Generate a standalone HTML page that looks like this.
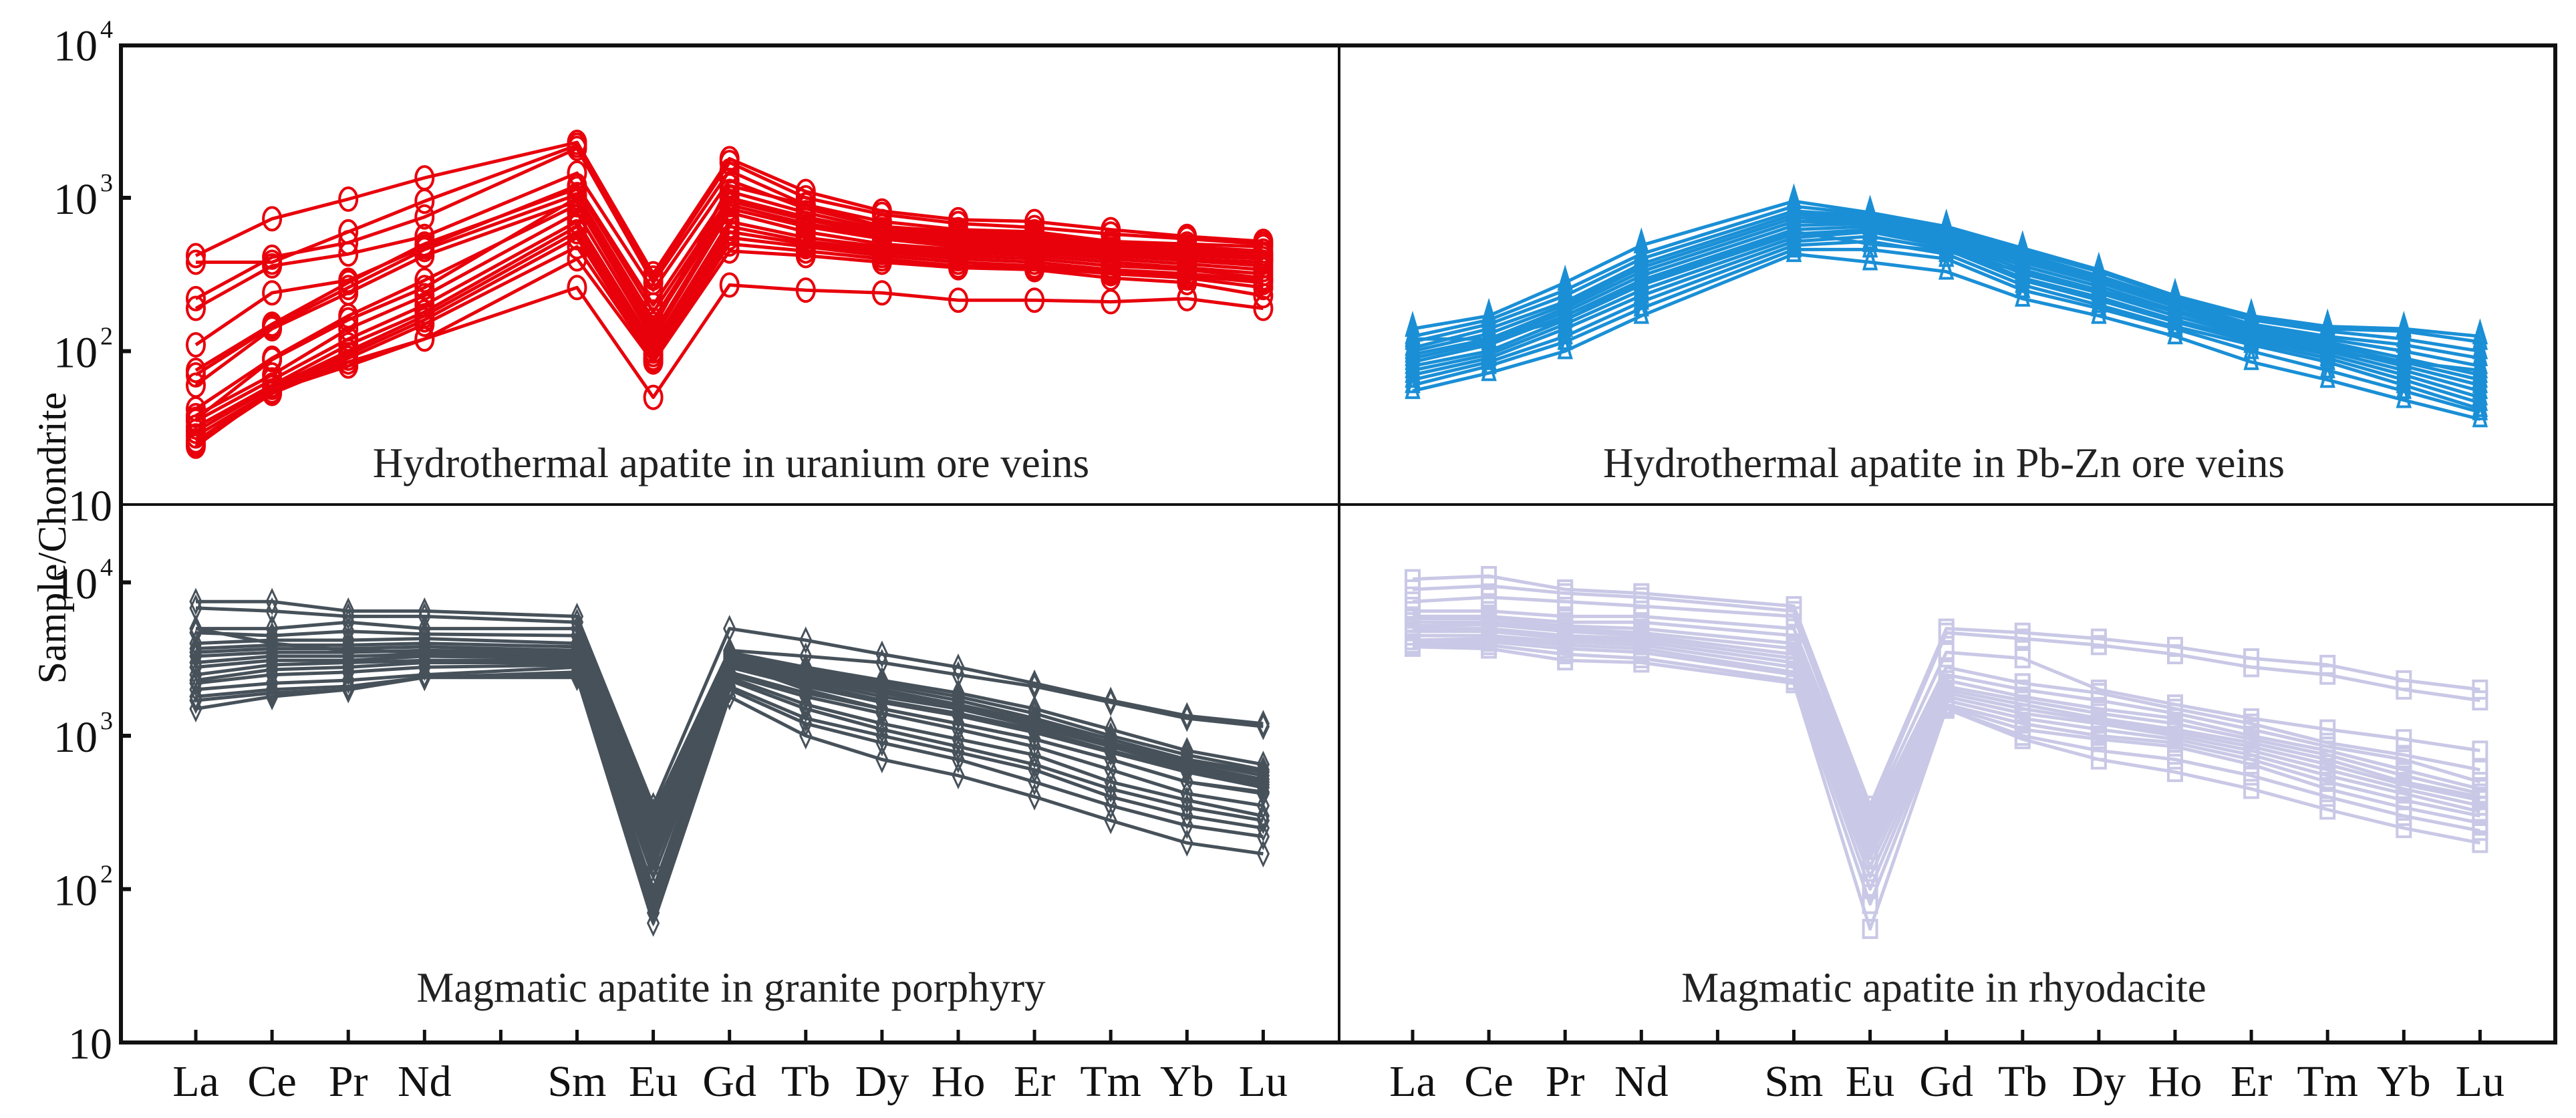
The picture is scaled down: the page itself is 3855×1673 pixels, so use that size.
<!DOCTYPE html>
<html><head><meta charset="utf-8"><style>
html,body{margin:0;padding:0;background:#fff}
svg{display:block;font-family:"Liberation Serif",serif}
</style></head><body>
<svg id="chart" width="3855" height="1673" viewBox="0 0 3855 1673" xmlns="http://www.w3.org/2000/svg">
<rect width="3855" height="1673" fill="#fff"/>
<g id="marks"></g>
<g id="frame"></g>
</svg>
<script>
const elements = ["La","Ce","Pr","Nd","Sm","Eu","Gd","Tb","Dy","Ho","Er","Tm","Yb","Lu"];
const elementIndex = [0,1,2,3,5,6,7,8,9,10,11,12,13,14];
const yTickExp = [4,3,2,1];
const captions = ["Hydrothermal apatite in uranium ore veins","Hydrothermal apatite in Pb-Zn ore veins","Magmatic apatite in granite porphyry","Magmatic apatite in rhyodacite"];

const uraniumSeries = [
[420,730,980,1350,2300,320,1800,1100,820,720,700,620,560,520],
[380,380,600,950,2200,300,1700,1000,780,680,640,580,540,500],
[220,410,510,750,2100,280,1500,900,700,620,600,520,500,480],
[190,360,430,560,1450,250,1300,850,650,580,560,500,480,450],
[110,240,290,480,1200,200,1100,800,620,560,540,480,460,430],
[75,150,280,500,1150,180,1000,750,600,540,520,460,440,420],
[70,145,260,460,1050,160,950,720,580,520,500,450,420,400],
[60,140,240,420,950,150,900,680,560,500,480,430,400,380],
[42,90,170,290,900,130,850,650,540,480,460,420,390,360],
[38,70,140,230,800,120,800,600,500,460,440,400,370,340],
[35,65,120,200,700,110,700,550,480,440,420,380,350,320],
[32,60,110,180,650,100,650,520,460,420,400,360,340,300],
[30,58,100,170,600,95,600,500,440,400,380,340,320,290],
[28,55,95,160,550,90,550,480,420,380,360,330,310,280],
[26,54,90,150,480,88,500,450,400,360,350,320,300,260],
[25,53,85,120,400,85,450,420,380,350,340,300,280,230],
[24,55,80,120,260,50,270,250,240,215,215,210,220,190],
[36,88,160,260,1000,140,1200,900,650,600,580,500,450,400]
];
const pbznSeries = [
[140,170,280,490,950,800,650,470,340,230,170,145,140,125],
[125,160,250,430,880,780,640,450,330,225,165,140,135,115],
[115,150,230,400,820,760,620,430,310,215,160,135,120,100],
[105,140,210,370,780,740,600,410,300,210,150,125,110,90],
[100,130,200,350,740,720,580,400,290,200,145,120,100,80],
[95,120,190,330,700,700,560,380,280,195,140,115,90,70],
[90,115,180,310,660,680,540,360,265,185,135,110,85,65],
[85,110,170,290,620,650,520,340,250,180,130,105,80,60],
[80,100,160,270,580,620,500,320,240,170,125,100,75,55],
[75,95,150,250,550,600,480,300,225,160,120,95,70,50],
[70,90,140,230,520,560,460,290,215,155,115,90,65,46],
[65,85,125,210,490,520,430,270,200,145,110,85,60,42],
[60,80,115,190,460,460,400,250,190,140,100,75,55,40],
[55,72,100,170,430,380,330,220,170,125,85,65,48,36],
[120,120,160,280,600,500,450,330,250,180,130,100,85,75]
];
const graniteSeries = [
[7500,7500,6500,6500,6000,350,5000,4200,3400,2800,2200,1700,1350,1200],
[6800,6500,6000,6000,5500,320,3600,3300,3000,2500,2100,1650,1300,1150],
[5000,5000,5500,5000,5000,300,3500,2800,2300,1900,1500,1100,800,650],
[4700,4500,4800,4600,4500,280,3400,2700,2200,1800,1400,1000,750,600],
[4000,4200,4200,4300,4000,260,3300,2600,2100,1700,1300,950,700,580],
[3700,3900,3900,4000,3800,240,3200,2500,2000,1600,1250,900,680,550],
[3500,3700,3700,3800,3600,220,3100,2400,1900,1550,1200,880,650,520],
[3300,3500,3500,3600,3500,200,3000,2300,1800,1500,1150,850,620,500],
[3000,3300,3300,3400,3300,180,2900,2200,1700,1400,1100,800,600,480],
[2800,3100,3100,3300,3200,160,2800,2100,1650,1350,1050,780,580,460],
[2500,2900,3000,3100,3100,140,2600,1900,1500,1200,950,700,500,420],
[2300,2700,2800,3000,3000,120,2500,1800,1400,1100,850,600,420,350],
[2200,2500,2600,2800,2900,100,2400,1600,1200,950,750,500,380,300],
[2000,2200,2300,2500,2800,90,2300,1500,1100,850,650,450,340,280],
[1800,2000,2100,2400,2600,80,2100,1300,1000,780,600,400,300,250],
[1700,1900,2000,2400,2500,70,2000,1200,900,700,500,350,260,220],
[1500,1800,2000,2400,2400,60,1800,1000,700,550,400,280,200,170],
[5000,4000,3600,3500,3400,200,3000,2000,1500,1200,950,700,500,430]
];
const rhyoSeries = [
[10500,11000,9000,8500,7000,350,5000,4700,4300,3800,3200,2900,2300,2000],
[9000,9500,8500,8000,6500,320,4700,4300,3900,3400,2800,2500,2000,1700],
[7500,8000,7500,7000,6000,300,3500,3200,2000,1600,1300,1100,950,800],
[6500,6500,6000,6000,5000,280,2800,2200,1900,1500,1200,900,750,600],
[6000,6000,5500,5500,4500,260,2500,2000,1700,1400,1100,850,700,500],
[5800,5800,5200,5000,4000,240,2300,1800,1500,1300,1000,800,600,450],
[5500,5500,5000,4700,3700,220,2100,1700,1400,1200,950,750,550,420],
[5200,5300,4800,4500,3400,200,2000,1600,1300,1100,900,700,500,400],
[5000,5000,4500,4300,3200,180,1900,1500,1250,1050,850,650,480,380],
[4800,4800,4300,4100,3000,160,1800,1400,1200,1000,800,600,450,350],
[4500,4500,4100,3900,2800,140,1700,1300,1100,950,750,550,420,320],
[4200,4300,3900,3700,2600,120,1600,1200,1000,900,700,500,380,300],
[4000,4100,3700,3500,2500,100,1550,1100,950,850,650,450,340,270],
[3900,3900,3400,3200,2300,80,1500,1000,800,700,550,400,300,240],
[3800,3700,3100,3000,2200,55,1500,950,700,580,450,330,250,200]
];

const NS = "http://www.w3.org/2000/svg";
const marks = document.getElementById("marks");
const frame = document.getElementById("frame");
const L = 181, R = 3824, MX = 2004, T = 68, MY = 755, B = 1560, DEC = 229.5;
function xScale(panelCol, i){ return (panelCol===0 ? 293 : 2114) + elementIndex[i]*114.1; }
function yScale(panelRow, v){ const base = panelRow===0 ? MY : B; return base - DEC*(Math.log10(v)-1); }
function mk(tag, attrs, parent){ const e=document.createElementNS(NS,tag); for(const k in attrs) e.setAttribute(k,attrs[k]); parent.appendChild(e); return e; }

const panels = [
 {data:uraniumSeries,col:0,row:0,color:"#e8000b",marker:"circle",name:"uranium"},
 {data:pbznSeries,col:1,row:0,color:"#1a8fd6",marker:"triangle",name:"pbzn"},
 {data:graniteSeries,col:0,row:1,color:"#47515a",marker:"diamond",name:"granite"},
 {data:rhyoSeries,col:1,row:1,color:"#c9c8e6",marker:"square",name:"rhyodacite"}
];
panels.forEach(p=>{
  const g = mk("g",{},marks);
  
  
  p.data.forEach((s,si)=>{
    const pts = s.map((v,i)=>xScale(p.col,i).toFixed(1)+","+yScale(p.row,v).toFixed(1)).join(" ");
    const line = mk("polyline",{points:pts,fill:"none",stroke:p.color,"stroke-width":5,"stroke-linejoin":"round"},g);
    
    
    s.forEach((v,i)=>{
      const x=xScale(p.col,i), y=yScale(p.row,v);
      let m;
      if(p.marker==="circle") m=mk("ellipse",{cx:x,cy:y,rx:13,ry:17,fill:"none",stroke:p.color,"stroke-width":4},g);
      else if(p.marker==="triangle") m=mk("polygon",{points:`${x},${y-20} ${x-9},${y+10} ${x+9},${y+10}`,fill:"none",stroke:p.color,"stroke-width":4},g);
      else if(p.marker==="diamond") m=mk("polygon",{points:`${x},${y-17} ${x-8},${y} ${x},${y+17} ${x+8},${y}`,fill:"none",stroke:p.color,"stroke-width":3},g);
      else m=mk("rect",{x:x-10,y:y-13,width:20,height:26,fill:"none",stroke:p.color,"stroke-width":4},g);
      
      
    });
  });
});

const fr = mk("rect",{x:L,y:T,width:R-L,height:B-T,fill:"none",stroke:"#111","stroke-width":6},frame);


const v = mk("line",{x1:MX,y1:T,x2:MX,y2:B,stroke:"#111","stroke-width":4},frame);


const h = mk("line",{x1:L,y1:MY,x2:R,y2:MY,stroke:"#111","stroke-width":4},frame);



[0,1].forEach(row=>{
  yTickExp.forEach(e=>{
    const y = yScale(row, Math.pow(10,e));
    if (y>T+2 && y<(row===0?MY:B)-2) {
      const t = mk("line",{x1:L,y1:y,x2:L+15,y2:y,stroke:"#111","stroke-width":6},frame);
      
      
    }
    const txt = mk("text",{x:e===1?168:146,y:y+24,"font-size":66,"text-anchor":"end",fill:"#111"},frame);
    
    
    txt.textContent = "10";
    if(e>1){
      const sup = mk("text",{x:150,y:y-10,"font-size":38,"text-anchor":"start",fill:"#111"},frame);
      
      
      sup.textContent = String(e);
    }
  });
});

[0,1].forEach(col=>{
  for(let k=0;k<=14;k++){
    const x = (col===0?293:2114)+k*114.1;
    const t = mk("line",{x1:x,y1:B,x2:x,y2:B-19,stroke:"#111","stroke-width":5},frame);
    
    
  }
  elements.forEach((el,i)=>{
    const txt = mk("text",{x:xScale(col,i),y:1640,"font-size":66,"text-anchor":"middle",fill:"#111"},frame);
    
    
    txt.textContent = el;
  });
});

const capPos = [[1094,714],[2909,714],[1094,1499],[2909,1499]];
captions.forEach((c,i)=>{
  const txt = mk("text",{x:capPos[i][0],y:capPos[i][1],"font-size":63,"text-anchor":"middle",fill:"#222"},frame);
  
  
  txt.textContent = c;
});

const yt = mk("text",{x:0,y:0,"font-size":60,"text-anchor":"middle",fill:"#111",transform:"translate(98,805) rotate(-90)"},frame);


yt.textContent = "Sample/Chondrite";
</script>
</body></html>
